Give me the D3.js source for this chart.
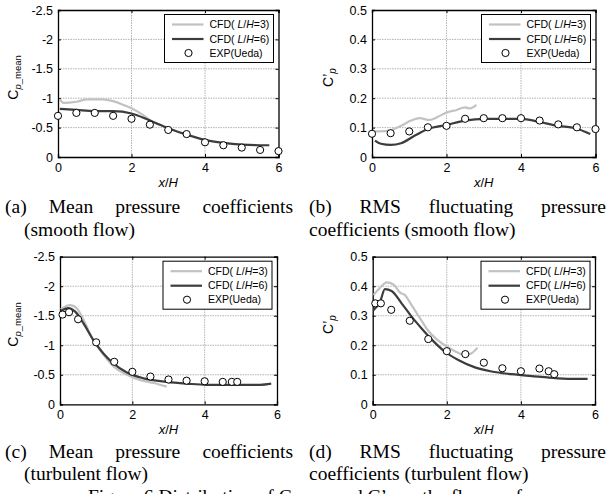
<!DOCTYPE html>
<html>
<head>
<meta charset="utf-8">
<script src="https://cdn.jsdelivr.net/npm/d3@7"></script>
<style>
  body { margin: 0; background: #fff; }
  svg { display: block; }
  text { font-family: Arial, "Liberation Sans", sans-serif; }
  .cap { font-family: "Times New Roman", "Liberation Serif", serif; font-size: 19.5px; }
</style>
</head>
<body>
<svg id="chart" width="611" height="494"></svg>
<script>
/* Cp distribution, 4 panels */

//** data **//
var xTicks = [0, 2, 4, 6];
var meanTicks = [0, -0.5, -1, -1.5, -2, -2.5];
var rmsTicks = [0, 0.1, 0.2, 0.3, 0.4, 0.5];
var seriesNames = ["CFD(L/H=3)", "CFD(L/H=6)", "EXP(Ueda)"];

// (a) mean, smooth flow
var aCfd3X = [0.05, 0.15, 0.5, 0.8, 1.2, 1.5, 1.8, 2.0, 2.3, 2.5, 2.8];
var aCfd3Y = [-0.98, -0.92, -0.94, -0.98, -0.98, -0.95, -0.88, -0.83, -0.72, -0.63, -0.54];
var aCfd6X = [0.05, 0.5, 1, 1.5, 2, 2.5, 3, 3.5, 4, 4.5, 5, 5.5, 5.75];
var aCfd6Y = [-0.82, -0.8, -0.78, -0.78, -0.74, -0.62, -0.49, -0.38, -0.29, -0.24, -0.21, -0.2, -0.2];
var aExpX = [0, 0.5, 1, 1.5, 2, 2.5, 3, 3.5, 4, 4.5, 5, 5.5, 6];
var aExpY = [-0.70, -0.75, -0.75, -0.70, -0.65, -0.55, -0.46, -0.39, -0.25, -0.20, -0.16, -0.12, -0.10];

// (b) rms, smooth flow
var bCfd3X = [0.06, 0.42, 0.78, 1.05, 1.28, 1.55, 1.77, 2.0, 2.27, 2.5, 2.63, 2.8];
var bCfd3Y = [0.087, 0.089, 0.106, 0.124, 0.132, 0.126, 0.137, 0.151, 0.16, 0.169, 0.165, 0.177];
var bCfd6X = [0.08, 0.24, 0.51, 0.78, 1.14, 1.5, 2.0, 2.49, 3.03, 3.57, 4.02, 4.47, 5.0, 5.46, 5.86];
var bCfd6Y = [0.056, 0.045, 0.041, 0.047, 0.072, 0.095, 0.109, 0.124, 0.13, 0.13, 0.13, 0.12, 0.106, 0.098, 0.078];
var bExpX = [0, 0.5, 1, 1.5, 2, 2.5, 3, 3.5, 4, 4.5, 5, 5.5, 6];
var bExpY = [0.079, 0.081, 0.087, 0.101, 0.106, 0.13, 0.132, 0.132, 0.132, 0.124, 0.111, 0.101, 0.095];

// (c) mean, turbulent flow
var cCfd3X = [0.02, 0.28, 0.46, 0.65, 0.92, 1.2, 1.48, 1.85, 2.22, 2.59, 2.95];
var cCfd3Y = [-1.61, -1.68, -1.63, -1.43, -1.09, -0.84, -0.64, -0.50, -0.41, -0.36, -0.30];
var cCfd6X = [0.02, 0.23, 0.42, 0.65, 0.92, 1.2, 1.48, 1.85, 2.31, 2.95, 3.51, 4.06, 4.8, 5.54, 5.84];
var cCfd6Y = [-1.58, -1.63, -1.57, -1.37, -1.09, -0.86, -0.69, -0.54, -0.44, -0.38, -0.35, -0.33, -0.33, -0.33, -0.35];
var cExpX = [0.07, 0.25, 0.5, 1, 1.5, 2, 2.5, 3, 3.5, 4, 4.5, 4.75, 4.9];
var cExpY = [-1.52, -1.56, -1.44, -1.05, -0.72, -0.55, -0.47, -0.42, -0.40, -0.39, -0.38, -0.38, -0.38];

// (d) rms, turbulent flow
var dCfd3X = [0.02, 0.2, 0.38, 0.56, 0.74, 0.87, 1.05, 1.28, 1.5, 1.73, 1.95, 2.22, 2.49, 2.67, 2.83];
var dCfd3Y = [0.37, 0.395, 0.413, 0.406, 0.378, 0.37, 0.336, 0.291, 0.249, 0.22, 0.2, 0.18, 0.167, 0.173, 0.192];
var dCfd6X = [0.02, 0.2, 0.33, 0.51, 0.78, 1.05, 1.32, 1.59, 1.95, 2.31, 2.76, 3.21, 3.75, 4.47, 5.0, 5.55, 5.8];
var dCfd6Y = [0.319, 0.348, 0.39, 0.384, 0.342, 0.297, 0.257, 0.22, 0.178, 0.15, 0.125, 0.111, 0.102, 0.094, 0.088, 0.086, 0.086];
var dExpX = [0.07, 0.22, 0.5, 1, 1.5, 2, 2.5, 3, 3.5, 4, 4.5, 4.75, 4.9];
var dExpY = [0.342, 0.342, 0.32, 0.283, 0.221, 0.18, 0.17, 0.141, 0.122, 0.112, 0.121, 0.112, 0.102];

function zip(xs, ys) { return xs.map(function(x, i) { return [x, ys[i]]; }); }

//** panel layout **//
var panels = [
  {box: [58, 278.5, 10, 157], yDomain: [0, -2.5], yTicks: meanTicks, mean: true, labelX: 18,
   c3: zip(aCfd3X, aCfd3Y), c6: zip(aCfd6X, aCfd6Y), exp: zip(aExpX, aExpY)},
  {box: [372, 595.5, 10, 157], yDomain: [0, 0.5], yTicks: rmsTicks, mean: false, labelX: 333,
   c3: zip(bCfd3X, bCfd3Y), c6: zip(bCfd6X, bCfd6Y), exp: zip(bExpX, bExpY)},
  {box: [60, 277, 256.7, 404.3], yDomain: [0, -2.5], yTicks: meanTicks, mean: true, labelX: 18,
   c3: zip(cCfd3X, cCfd3Y), c6: zip(cCfd6X, cCfd6Y), exp: zip(cExpX, cExpY)},
  {box: [372.7, 595, 256.7, 404.3], yDomain: [0, 0.5], yTicks: rmsTicks, mean: false, labelX: 333,
   c3: zip(dCfd3X, dCfd3Y), c6: zip(dCfd6X, dCfd6Y), exp: zip(dExpX, dExpY)}
];

var svg = d3.select("#chart");
var light = "#c2c2c2", dark = "#3c3c3c";

panels.forEach(function(p) {
  var L = p.box[0], R = p.box[1], T = p.box[2], B = p.box[3];
  var x = d3.scaleLinear().domain([0, 6]).range([L, R]);
  var y = d3.scaleLinear().domain(p.yDomain).range([B, T]);
  var g = svg.append("g");

  // grid
  g.append("g").selectAll("line").data(xTicks.slice(1, -1)).enter().append("line")
    .attr("x1", function(d) { return x(d); }).attr("x2", function(d) { return x(d); })
    .attr("y1", T).attr("y2", B);
  g.append("g").selectAll("line").data(p.yTicks.slice(1, -1)).enter().append("line")
    .attr("y1", function(d) { return y(d); }).attr("y2", function(d) { return y(d); })
    .attr("x1", L).attr("x2", R);
  g.selectAll("line").attr("stroke", "#a0a0a0").attr("stroke-width", 0.8).attr("stroke-dasharray", "1.5,1");

  // axes
  var fmt = function(d) { return d3.format("")(d).replace("\u2212", "-"); };
  g.append("g").attr("transform", "translate(0," + B + ")")
    .call(d3.axisBottom(x).tickValues(xTicks).tickSize(-3).tickPadding(6).tickFormat(fmt));
  g.append("g").attr("transform", "translate(" + L + ",0)")
    .call(d3.axisLeft(y).tickValues(p.yTicks).tickSize(-3).tickPadding(5).tickFormat(fmt));
  g.append("g").attr("transform", "translate(0," + T + ")")
    .call(d3.axisTop(x).tickValues(xTicks).tickSize(-3).tickFormat(""));
  g.append("g").attr("transform", "translate(" + R + ",0)")
    .call(d3.axisRight(y).tickValues(p.yTicks).tickSize(-3).tickFormat(""));
  g.selectAll(".domain").attr("stroke", "#000").attr("stroke-width", 1.3);
  g.selectAll(".tick line").attr("stroke", "#000");
  g.selectAll(".tick text").attr("font-size", 12.5).attr("font-family", "Arial, 'Liberation Sans'").attr("fill", "#000");

  // curves
  var line = d3.line().x(function(d) { return x(d[0]); }).y(function(d) { return y(d[1]); })
    .curve(d3.curveMonotoneX);
  g.append("path").datum(p.c3).attr("d", line).attr("fill", "none")
    .attr("stroke", light).attr("stroke-width", 2.2);
  g.append("path").datum(p.c6).attr("d", line).attr("fill", "none")
    .attr("stroke", dark).attr("stroke-width", 2.2);
  g.append("g").selectAll("circle").data(p.exp).enter().append("circle")
    .attr("cx", function(d) { return x(d[0]); }).attr("cy", function(d) { return y(d[1]); })
    .attr("r", 3.6).attr("fill", "#fff").attr("stroke", "#000").attr("stroke-width", 1);

  // x label
  var xl = g.append("text").attr("x", (L + R) / 2).attr("y", B + 30).attr("text-anchor", "middle")
    .attr("font-size", 13).attr("font-style", "italic");
  xl.append("tspan").text("x");
  xl.append("tspan").attr("font-style", "normal").text("/");
  xl.append("tspan").text("H");

  // y label
  var yl = g.append("text").attr("text-anchor", "middle")
    .attr("transform", "translate(" + p.labelX + "," + ((T + B) / 2 - 6) + ") rotate(-90)")
    .attr("font-size", 14);
  if (p.mean) {
    yl.append("tspan").text("C");
    yl.append("tspan").attr("font-size", 9.5).attr("font-style", "italic").attr("dy", 3).text("p");
    yl.append("tspan").attr("font-size", 9.5).text("_mean");
  } else {
    yl.append("tspan").text("C\u2019");
    yl.append("tspan").attr("font-size", 10).attr("font-style", "italic").attr("dy", 3).text("p");
  }

  // legend
  var lw = 109, lh = 48, lx = R - 5 - lw, ly = T + 4.5;
  var lg = g.append("g").attr("transform", "translate(" + lx + "," + ly + ")");
  lg.append("rect").attr("width", lw).attr("height", lh).attr("fill", "#fff")
    .attr("stroke", "#000").attr("stroke-width", 1);
  var rows = [10, 24.5, 38.5];
  [light, dark].forEach(function(c, i) {
    lg.append("line").attr("x1", 7.5).attr("x2", 39).attr("y1", rows[i]).attr("y2", rows[i])
      .attr("stroke", c).attr("stroke-width", 2.2);
  });
  lg.append("circle").attr("cx", 24).attr("cy", rows[2]).attr("r", 3.6)
    .attr("fill", "#fff").attr("stroke", "#000");
  seriesNames.forEach(function(s, i) {
    var t = lg.append("text").attr("x", 45).attr("y", rows[i] + 3.8).attr("font-size", 10.5);
    if (i < 2) {
      t.append("tspan").text("CFD( ");
      t.append("tspan").attr("font-style", "italic").text("L");
      t.append("tspan").text("/");
      t.append("tspan").attr("font-style", "italic").text("H");
      t.append("tspan").text(s.slice(7));
    } else {
      t.text(s);
    }
  });
});

//** captions (justified lines) **//
var capLines = [
  {words: ["(a)", "Mean", "pressure", "coefficients"], x0: 5, x1: 293, y: 213},
  {words: ["(smooth flow)"], x0: 24, y: 236},
  {words: ["(b)", "RMS", "fluctuating", "pressure"], x0: 309, x1: 606, y: 213},
  {words: ["coefficients (smooth flow)"], x0: 309, y: 236},
  {words: ["(c)", "Mean", "pressure", "coefficients"], x0: 5, x1: 293, y: 458},
  {words: ["(turbulent flow)"], x0: 24, y: 480},
  {words: ["(d)", "RMS", "fluctuating", "pressure"], x0: 309, x1: 606, y: 458},
  {words: ["coefficients (turbulent flow)"], x0: 309, y: 480}
];
capLines.forEach(function(l) {
  var nodes = l.words.map(function(w) {
    return svg.append("text").attr("class", "cap").attr("y", l.y).text(w);
  });
  var widths = nodes.map(function(n) { return n.node().getComputedTextLength(); });
  var gap = l.x1 ? (l.x1 - l.x0 - d3.sum(widths)) / (nodes.length - 1) : 0;
  var cx = l.x0;
  nodes.forEach(function(n, i) { n.attr("x", cx); cx += widths[i] + gap; });
});

// figure caption, cut by the bottom edge as in the source page
var fig = svg.append("text").attr("class", "cap").attr("x", 88).attr("y", 503);
fig.append("tspan").text("Figure 6 Distribution of C");
fig.append("tspan").attr("font-size", 12).attr("dy", 3).text("p_mean");
fig.append("tspan").attr("dy", -3).text(" and C\u2019");
fig.append("tspan").attr("font-size", 12).attr("dy", 3).text("p");
fig.append("tspan").attr("dy", -3).text(" on the flow surface");
</script>
</body>
</html>
